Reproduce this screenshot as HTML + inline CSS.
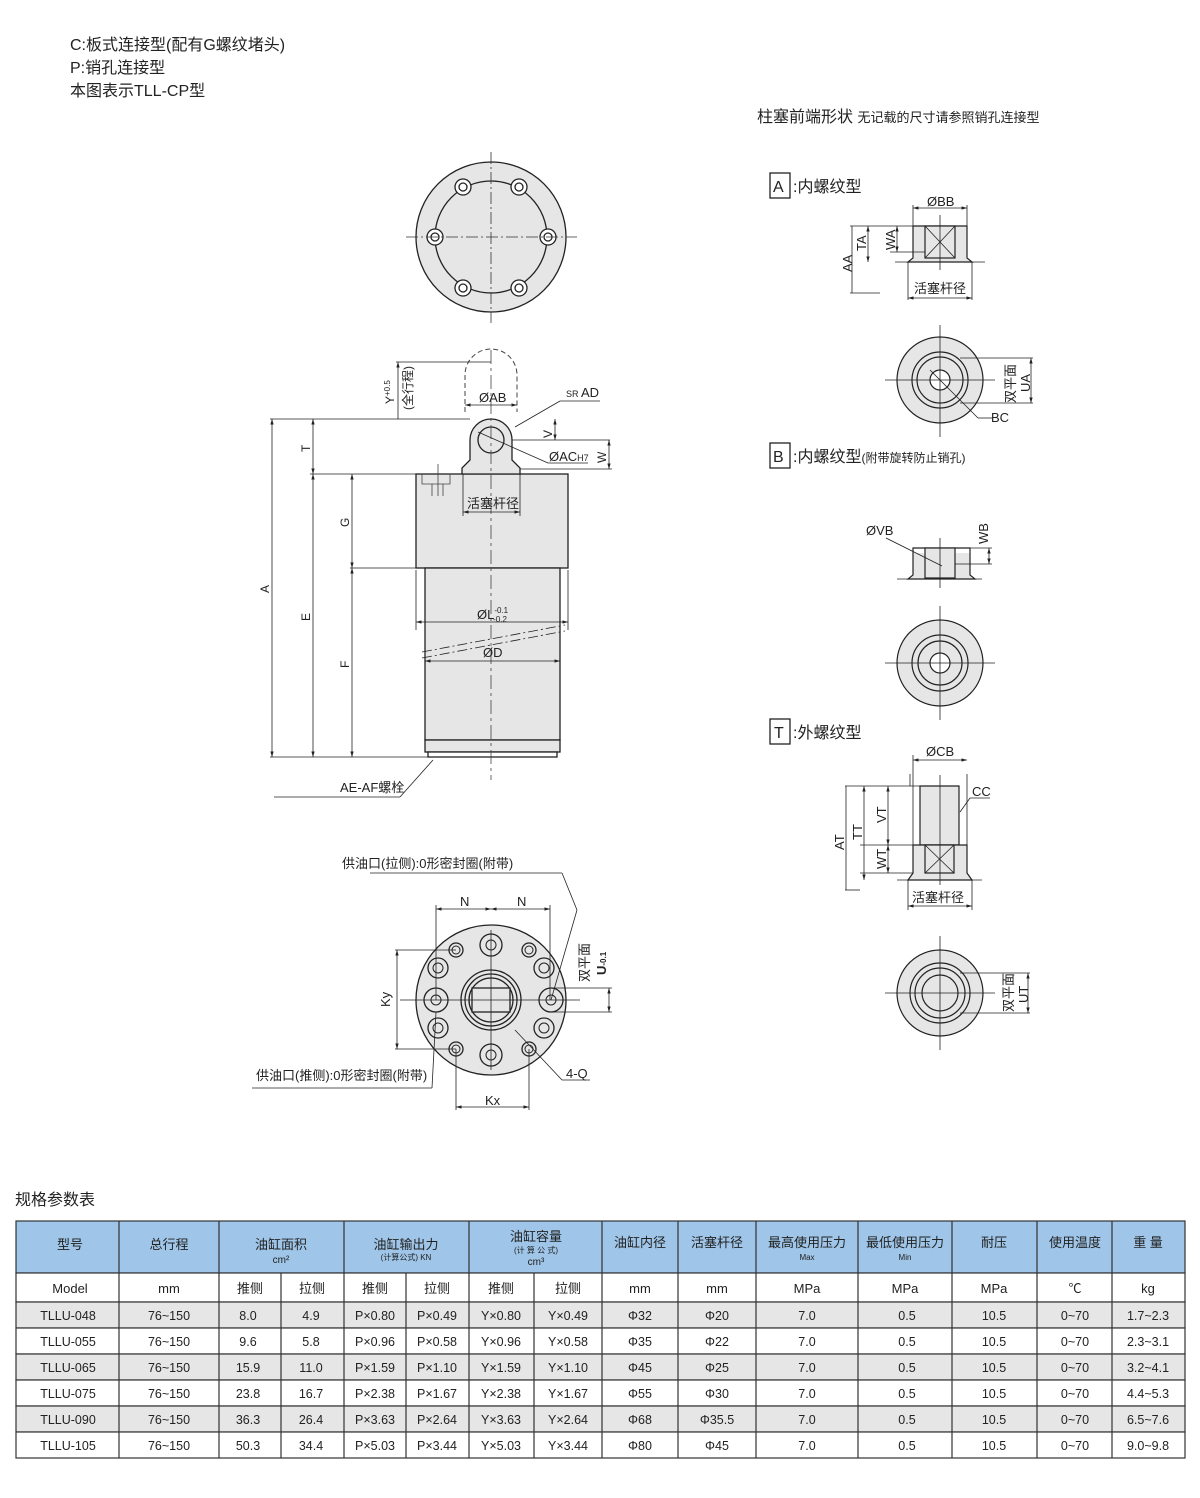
<!DOCTYPE html>
<html><head><meta charset="utf-8">
<style>
body{margin:0;background:#fff;}
svg{display:block;font-family:"Liberation Sans","Noto Sans CJK SC",sans-serif;}
.t{font-family:"Liberation Sans","Noto Sans CJK SC",sans-serif;}
</style></head>
<body>
<svg width="1200" height="1498" viewBox="0 0 1200 1498" xmlns="http://www.w3.org/2000/svg">
<defs>
<marker id="ar" viewBox="0 0 10 10" refX="10" refY="5" markerWidth="7" markerHeight="7" orient="auto-start-reverse"><path d="M0,2 L10,5 L0,8 z" fill="#222"/></marker>
</defs>
<g font-size="16" fill="#222">
<text x="70" y="50">C:板式连接型(配有G螺纹堵头)</text>
<text x="70" y="73">P:销孔连接型</text>
<text x="70" y="96">本图表示TLL-CP型</text>
<text x="757" y="122" font-size="16">柱塞前端形状 <tspan font-size="13">无记载的尺寸请参照销孔连接型</tspan></text>
</g>

<!-- top view -->
<g stroke="#222" stroke-width="1.3" fill="#e6e6e6">
<circle cx="491" cy="237" r="75"/>
<circle cx="491" cy="237" r="56" fill="#e6e6e6"/>
<g fill="#fff"><circle cx="463" cy="187" r="8"/><circle cx="519" cy="187" r="8"/><circle cx="435" cy="237" r="8"/><circle cx="548" cy="237" r="8"/><circle cx="463" cy="288" r="8"/><circle cx="519" cy="288" r="8"/></g>
<g fill="none"><circle cx="463" cy="187" r="4"/><circle cx="519" cy="187" r="4"/><circle cx="435" cy="237" r="4"/><circle cx="548" cy="237" r="4"/><circle cx="463" cy="288" r="4"/><circle cx="519" cy="288" r="4"/></g>
</g>
<g stroke="#333" stroke-width="0.8" stroke-dasharray="12,3,2,3"><line x1="491" y1="152" x2="491" y2="323"/><line x1="406" y1="237" x2="577" y2="237"/></g>

<!-- side view -->
<g stroke="#222" stroke-width="1.3">
<rect x="416" y="474" width="152" height="94" fill="#e6e6e6"/>
<rect x="425" y="568" width="135" height="172" fill="#e6e6e6"/>
<rect x="425" y="740" width="135" height="12" fill="#e6e6e6"/>
<rect x="428" y="752" width="129" height="5" fill="#fff"/>
<path d="M462,474 L462,468 L470,460 L470,440 A21,21 0 0 1 512,440 L512,460 L520,468 L520,474 Z" fill="#e6e6e6"/>
<circle cx="491" cy="440" r="13" fill="#e6e6e6"/>
</g>
<path d="M465,412 L465,375 A26,26 0 0 1 517,375 L517,412" fill="none" stroke="#444" stroke-dasharray="5,3"/>
<g stroke="#444" stroke-width="0.8" fill="none" stroke-dasharray="14,4,3,4"><line x1="491" y1="350" x2="491" y2="780"/></g>
<path d="M422,474 v10 h28 v-10 M432,484 v12 M443,484 v12 M438,464 v32" stroke="#444" stroke-width="0.8" fill="none"/>
<g stroke="#222" stroke-width="0.8" fill="none">
<line x1="270" y1="419" x2="470" y2="419"/><line x1="310" y1="474" x2="416" y2="474"/><line x1="350" y1="568" x2="425" y2="568"/><line x1="270" y1="757" x2="430" y2="757"/>
<line x1="272" y1="419" x2="272" y2="757" marker-start="url(#ar)" marker-end="url(#ar)"/>
<line x1="313" y1="419" x2="313" y2="474" marker-start="url(#ar)" marker-end="url(#ar)"/>
<line x1="313" y1="474" x2="313" y2="757" marker-start="url(#ar)" marker-end="url(#ar)"/>
<line x1="352" y1="474" x2="352" y2="568" marker-start="url(#ar)" marker-end="url(#ar)"/>
<line x1="352" y1="568" x2="352" y2="757" marker-start="url(#ar)" marker-end="url(#ar)"/>
<line x1="398" y1="362" x2="398" y2="419" marker-start="url(#ar)"/><line x1="396" y1="362" x2="491" y2="362"/>
<line x1="465" y1="405" x2="517" y2="405" marker-start="url(#ar)" marker-end="url(#ar)"/>
<line x1="463" y1="474" x2="463" y2="516"/><line x1="520" y1="474" x2="520" y2="516"/>
<line x1="463" y1="512" x2="520" y2="512" marker-start="url(#ar)" marker-end="url(#ar)"/>
<line x1="555" y1="419" x2="555" y2="440" marker-start="url(#ar)" marker-end="url(#ar)"/><line x1="512" y1="440" x2="610" y2="440"/>
<line x1="609" y1="440" x2="609" y2="469" marker-start="url(#ar)" marker-end="url(#ar)"/><line x1="520" y1="469" x2="612" y2="469"/>
<line x1="515" y1="427" x2="560" y2="401"/><line x1="560" y1="401" x2="600" y2="401"/>
<line x1="478" y1="432" x2="548" y2="463"/><line x1="548" y1="463" x2="588" y2="463"/>
<line x1="416" y1="570" x2="416" y2="630"/><line x1="568" y1="570" x2="568" y2="630"/>
<line x1="416" y1="622" x2="568" y2="622" marker-start="url(#ar)" marker-end="url(#ar)"/>
<line x1="425" y1="661" x2="560" y2="661" marker-start="url(#ar)" marker-end="url(#ar)"/>
<line x1="422" y1="652" x2="565" y2="625" stroke-dasharray="10,3,2,3"/><line x1="422" y1="658" x2="565" y2="631" stroke-dasharray="10,3,2,3"/>
<line x1="433" y1="760" x2="400" y2="797"/><line x1="274" y1="797" x2="400" y2="797"/>
</g>
<g font-size="14" fill="#222">
<text x="479" y="402" font-size="13">ØAB</text>
<text x="566" y="397" font-size="13"><tspan font-size="9">SR </tspan>AD</text>
<text x="549" y="461" font-size="13">ØAC<tspan font-size="9">H7</tspan></text>
<text x="467" y="508" font-size="13">活塞杆径</text>
<text x="477" y="619" font-size="13">ØL<tspan font-size="8" dy="-6">-0.1</tspan><tspan font-size="8" dx="-15" dy="9">-0.2</tspan></text>
<text x="483" y="657" font-size="13">ØD</text>
<text x="340" y="792" font-size="13">AE-AF螺栓</text>
<g font-size="12">
<text transform="translate(269,593) rotate(-90)">A</text>
<text transform="translate(310,452) rotate(-90)">T</text>
<text transform="translate(310,621) rotate(-90)">E</text>
<text transform="translate(349,527) rotate(-90)">G</text>
<text transform="translate(349,668) rotate(-90)">F</text>
<text transform="translate(552,438) rotate(-90)">V</text>
<text transform="translate(606,463) rotate(-90)">W</text>
<text transform="translate(394,404) rotate(-90)">Y<tspan font-size="8" dy="-4">+0.5</tspan></text>
<text transform="translate(412,410) rotate(-90)">(全行程)</text>
</g>
</g>

<!-- bottom view -->
<g stroke="#222" stroke-width="1.3" fill="#e6e6e6">
<circle cx="491" cy="1000" r="75"/>
<circle cx="491" cy="1000" r="30"/><circle cx="491" cy="1000" r="26"/><circle cx="491" cy="1000" r="22"/>
<rect x="472" y="988" width="38" height="24" fill="#e6e6e6"/>
<g fill="#e6e6e6"><circle cx="491" cy="945" r="11"/><circle cx="491" cy="1055" r="11"/><circle cx="438" cy="968" r="10"/><circle cx="544" cy="968" r="10"/><circle cx="438" cy="1028" r="10"/><circle cx="544" cy="1028" r="10"/><circle cx="436" cy="1000" r="12"/><circle cx="551" cy="1000" r="12"/><circle cx="456" cy="950" r="7"/><circle cx="529" cy="950" r="7"/><circle cx="456" cy="1049" r="7"/><circle cx="529" cy="1049" r="7"/></g>
<g fill="none" stroke-width="1"><circle cx="491" cy="945" r="5"/><circle cx="491" cy="1055" r="5"/><circle cx="438" cy="968" r="5"/><circle cx="544" cy="968" r="5"/><circle cx="438" cy="1028" r="5"/><circle cx="544" cy="1028" r="5"/><circle cx="436" cy="1000" r="5"/><circle cx="551" cy="1000" r="5"/><circle cx="456" cy="950" r="4"/><circle cx="529" cy="950" r="4"/><circle cx="456" cy="1049" r="4"/><circle cx="529" cy="1049" r="4"/></g>
</g>
<g stroke="#222" stroke-width="0.8" fill="none">
<line x1="400" y1="1000" x2="580" y2="1000"/><line x1="491" y1="930" x2="491" y2="1070"/>
<line x1="436" y1="905" x2="436" y2="1000"/><line x1="550" y1="905" x2="550" y2="1000"/>
<line x1="436" y1="909" x2="491" y2="909" marker-start="url(#ar)" marker-end="url(#ar)"/><line x1="491" y1="909" x2="550" y2="909" marker-start="url(#ar)" marker-end="url(#ar)"/>
<line x1="395" y1="950" x2="456" y2="950"/><line x1="395" y1="1049" x2="456" y2="1049"/>
<line x1="397" y1="950" x2="397" y2="1049" marker-start="url(#ar)" marker-end="url(#ar)"/>
<line x1="456" y1="1049" x2="456" y2="1110"/><line x1="529" y1="1049" x2="529" y2="1110"/>
<line x1="456" y1="1107" x2="529" y2="1107" marker-start="url(#ar)" marker-end="url(#ar)"/>
<line x1="551" y1="988" x2="612" y2="988"/><line x1="551" y1="1012" x2="612" y2="1012"/>
<line x1="609" y1="988" x2="609" y2="1012" marker-start="url(#ar)" marker-end="url(#ar)"/>
<line x1="370" y1="873" x2="562" y2="873"/><line x1="562" y1="873" x2="577" y2="910"/><line x1="577" y1="910" x2="551" y2="1000"/>
<line x1="252" y1="1088" x2="432" y2="1088"/><line x1="432" y1="1088" x2="436" y2="1012"/>
<line x1="515" y1="1030" x2="562" y2="1080"/><line x1="562" y1="1080" x2="590" y2="1080"/>
</g>
<g font-size="13" fill="#222">
<text x="342" y="868">供油口(拉侧):0形密封圈(附带)</text>
<text x="256" y="1080">供油口(推侧):0形密封圈(附带)</text>
<text x="460" y="906">N</text><text x="517" y="906">N</text>
<text x="485" y="1105">Kx</text><text x="566" y="1078">4-Q</text>
<text transform="translate(390,1007) rotate(-90)">Ky</text>
<text transform="translate(589,982) rotate(-90)">双平面</text>
<text transform="translate(606,975) rotate(-90)" font-weight="bold">U<tspan font-size="8">-0.1</tspan></text>
</g>

<!-- Right: A -->
<g font-size="16" fill="#222" stroke="#222">
<rect x="770" y="173" width="20" height="25" fill="none" stroke-width="1.3"/>
<text x="773" y="192" stroke="none">A</text><text x="793" y="192" stroke="none">:内螺纹型</text>
<rect x="770" y="443" width="20" height="25" fill="none" stroke-width="1.3"/>
<text x="773" y="462" stroke="none">B</text><text x="793" y="462" stroke="none">:内螺纹型<tspan font-size="12">(附带旋转防止销孔)</tspan></text>
<rect x="770" y="719" width="20" height="25" fill="none" stroke-width="1.3"/>
<text x="774" y="738" stroke="none">T</text><text x="793" y="738" stroke="none">:外螺纹型</text>
</g>
<g stroke="#222" stroke-width="1.2" fill="#e6e6e6">
<path d="M913,258 V226 H967 V258 L972,262 H908 Z"/>
<rect x="925" y="226" width="30" height="32"/>
<path d="M913,553 V548 H970 V553 M913,548 V575 L908,579 H975 L970,575 V548"/>
<rect x="925" y="548" width="30" height="30"/>
<path d="M920,845 V786 H959 V845 Z"/>
<path d="M913,845 H967 V873 L972,880 H908 L913,873 Z"/>
<rect x="925" y="845" width="29" height="28"/>
</g>
<g stroke="#222" stroke-width="0.8" fill="none">
<line x1="895" y1="262" x2="985" y2="262"/><line x1="925" y1="226" x2="955" y2="258"/><line x1="955" y1="226" x2="925" y2="258"/>
<line x1="897" y1="579" x2="982" y2="579"/>
<line x1="897" y1="880" x2="982" y2="880"/><line x1="925" y1="845" x2="954" y2="873"/><line x1="954" y1="845" x2="925" y2="873"/>
<line x1="940" y1="215" x2="940" y2="270"/><line x1="940" y1="538" x2="940" y2="588"/><line x1="940" y1="775" x2="940" y2="885"/>
<line x1="913" y1="226" x2="913" y2="205"/><line x1="967" y1="226" x2="967" y2="205"/>
<line x1="913" y1="208" x2="967" y2="208" marker-start="url(#ar)" marker-end="url(#ar)"/>
<line x1="908" y1="262" x2="908" y2="300"/><line x1="972" y1="262" x2="972" y2="300"/>
<line x1="908" y1="298" x2="972" y2="298" marker-start="url(#ar)" marker-end="url(#ar)"/>
<line x1="850" y1="226" x2="913" y2="226"/><line x1="850" y1="293" x2="880" y2="293"/>
<line x1="852" y1="226" x2="852" y2="293"/>
<line x1="868" y1="226" x2="868" y2="262" marker-start="url(#ar)" marker-end="url(#ar)"/>
<line x1="897" y1="226" x2="897" y2="252" marker-start="url(#ar)" marker-end="url(#ar)"/><line x1="890" y1="252" x2="925" y2="252"/>
<line x1="970" y1="548" x2="992" y2="548"/><line x1="955" y1="564" x2="992" y2="564"/>
<line x1="989" y1="548" x2="989" y2="564" marker-start="url(#ar)" marker-end="url(#ar)"/>
<line x1="886" y1="538" x2="942" y2="566"/>
<line x1="910" y1="774" x2="910" y2="786"/><line x1="967" y1="774" x2="967" y2="845"/>
<line x1="913" y1="760" x2="967" y2="760" marker-start="url(#ar)" marker-end="url(#ar)"/><line x1="913" y1="755" x2="913" y2="845"/>
<line x1="845" y1="786" x2="920" y2="786"/><line x1="845" y1="890" x2="860" y2="890"/><line x1="860" y1="845" x2="913" y2="845"/><line x1="860" y1="873" x2="913" y2="873"/>
<line x1="846" y1="786" x2="846" y2="890"/>
<line x1="864" y1="786" x2="864" y2="880" marker-start="url(#ar)" marker-end="url(#ar)"/>
<line x1="888" y1="786" x2="888" y2="845" marker-start="url(#ar)" marker-end="url(#ar)"/>
<line x1="888" y1="845" x2="888" y2="873" marker-start="url(#ar)" marker-end="url(#ar)"/>
<line x1="908" y1="880" x2="908" y2="910"/><line x1="972" y1="880" x2="972" y2="910"/>
<line x1="908" y1="906" x2="972" y2="906" marker-start="url(#ar)" marker-end="url(#ar)"/>
<line x1="960" y1="812" x2="970" y2="798"/><line x1="970" y1="798" x2="990" y2="798"/>
</g>
<!-- round views -->
<g stroke="#222" stroke-width="1.2" fill="#e6e6e6">
<circle cx="940" cy="380" r="43"/><circle cx="940" cy="380" r="28"/><circle cx="940" cy="380" r="23" fill="none"/><circle cx="940" cy="380" r="10" fill="#fff"/>
<circle cx="940" cy="663" r="43"/><circle cx="940" cy="663" r="28"/><circle cx="940" cy="663" r="22" fill="none"/><circle cx="940" cy="663" r="10" fill="#fff"/>
<circle cx="940" cy="993" r="43"/><circle cx="940" cy="993" r="30"/><circle cx="940" cy="993" r="25" fill="none"/><circle cx="940" cy="993" r="18" fill="none"/>
</g>
<g stroke="#222" stroke-width="0.8" fill="none">
<line x1="885" y1="380" x2="995" y2="380"/><line x1="940" y1="325" x2="940" y2="437"/>
<line x1="885" y1="663" x2="995" y2="663"/><line x1="940" y1="606" x2="940" y2="720"/>
<line x1="885" y1="993" x2="995" y2="993"/><line x1="940" y1="936" x2="940" y2="1050"/>
<line x1="960" y1="358" x2="1033" y2="358"/><line x1="960" y1="403" x2="1033" y2="403"/>
<line x1="1031" y1="358" x2="1031" y2="403" marker-start="url(#ar)" marker-end="url(#ar)"/>
<line x1="930" y1="370" x2="955" y2="395"/><line x1="955" y1="395" x2="978" y2="418"/><line x1="978" y1="418" x2="992" y2="418"/>
<line x1="960" y1="973" x2="1030" y2="973"/><line x1="960" y1="1013" x2="1030" y2="1013"/>
<line x1="1028" y1="973" x2="1028" y2="1013" marker-start="url(#ar)" marker-end="url(#ar)"/>
</g>
<g font-size="13" fill="#222">
<text x="927" y="206">ØBB</text><text x="914" y="293">活塞杆径</text>
<text transform="translate(852,272) rotate(-90)">AA</text><text transform="translate(866,251) rotate(-90)">TA</text><text transform="translate(895,250) rotate(-90)">WA</text>
<text transform="translate(1015,403) rotate(-90)">双平面</text><text transform="translate(1030,392) rotate(-90)">UA</text>
<text x="991" y="422">BC</text>
<text x="866" y="535">ØVB</text><text transform="translate(988,544) rotate(-90)">WB</text>
<text x="926" y="756">ØCB</text><text x="972" y="796">CC</text><text x="912" y="902">活塞杆径</text>
<text transform="translate(844,850) rotate(-90)">AT</text><text transform="translate(862,840) rotate(-90)">TT</text>
<text transform="translate(886,823) rotate(-90)">VT</text><text transform="translate(886,869) rotate(-90)">WT</text>
<text transform="translate(1013,1012) rotate(-90)">双平面</text><text transform="translate(1028,1003) rotate(-90)">UT</text>
</g>

<!-- table -->
<text x="15" y="1205" font-size="16" fill="#222">规格参数表</text>
<g stroke="#333" stroke-width="1.2">
<rect x="16" y="1221" width="1169" height="52" fill="#9fc5e8"/>
<rect x="16" y="1273" width="1169" height="29" fill="#fff"/>
<rect x="16" y="1302" width="1169" height="26" fill="#e6e6e6"/>
<rect x="16" y="1328" width="1169" height="26" fill="#fff"/>
<rect x="16" y="1354" width="1169" height="26" fill="#e6e6e6"/>
<rect x="16" y="1380" width="1169" height="26" fill="#fff"/>
<rect x="16" y="1406" width="1169" height="26" fill="#e6e6e6"/>
<rect x="16" y="1432" width="1169" height="26" fill="#fff"/>
<g fill="none">
<path d="M119,1221V1458 M219,1221V1458 M344,1221V1458 M469,1221V1458 M602,1221V1458 M678,1221V1458 M756,1221V1458 M858,1221V1458 M952,1221V1458 M1037,1221V1458 M1112,1221V1458"/>
<path d="M281,1273V1458 M406,1273V1458 M534,1273V1458"/>
</g>
</g>
<g font-size="13" fill="#222" text-anchor="middle">
<text x="70" y="1249">型号</text><text x="169" y="1249">总行程</text>
<text x="281" y="1249">油缸面积</text><text x="281" y="1263" font-size="10">cm²</text>
<text x="406" y="1249">油缸输出力</text><text x="406" y="1260" font-size="8">(计算公式) KN</text>
<text x="536" y="1241">油缸容量</text><text x="536" y="1253" font-size="8">(计 算 公 式)</text><text x="536" y="1265" font-size="10">cm³</text>
<text x="640" y="1247">油缸内径</text><text x="717" y="1247">活塞杆径</text>
<text x="807" y="1247">最高使用压力</text><text x="807" y="1260" font-size="8">Max</text>
<text x="905" y="1247">最低使用压力</text><text x="905" y="1260" font-size="8">Min</text>
<text x="994" y="1247">耐压</text><text x="1075" y="1247">使用温度</text><text x="1148" y="1247">重 量</text>
<text x="70" y="1293">Model</text><text x="169" y="1293">mm</text><text x="250" y="1293">推侧</text><text x="312" y="1293">拉侧</text>
<text x="375" y="1293">推侧</text><text x="437" y="1293">拉侧</text><text x="501" y="1293">推侧</text><text x="568" y="1293">拉侧</text>
<text x="640" y="1293">mm</text><text x="717" y="1293">mm</text><text x="807" y="1293">MPa</text><text x="905" y="1293">MPa</text><text x="994" y="1293">MPa</text><text x="1075" y="1293">℃</text><text x="1148" y="1293">kg</text>
<g font-size="12.5">
<text x="68" y="1320">TLLU-048</text><text x="169" y="1320">76~150</text><text x="248" y="1320">8.0</text><text x="311" y="1320">4.9</text><text x="375" y="1320">P×0.80</text><text x="437" y="1320">P×0.49</text><text x="501" y="1320">Y×0.80</text><text x="568" y="1320">Y×0.49</text><text x="640" y="1320">Φ32</text><text x="717" y="1320">Φ20</text><text x="807" y="1320">7.0</text><text x="907" y="1320">0.5</text><text x="994" y="1320">10.5</text><text x="1075" y="1320">0~70</text><text x="1148" y="1320">1.7~2.3</text>
<text x="68" y="1346">TLLU-055</text><text x="169" y="1346">76~150</text><text x="248" y="1346">9.6</text><text x="311" y="1346">5.8</text><text x="375" y="1346">P×0.96</text><text x="437" y="1346">P×0.58</text><text x="501" y="1346">Y×0.96</text><text x="568" y="1346">Y×0.58</text><text x="640" y="1346">Φ35</text><text x="717" y="1346">Φ22</text><text x="807" y="1346">7.0</text><text x="907" y="1346">0.5</text><text x="994" y="1346">10.5</text><text x="1075" y="1346">0~70</text><text x="1148" y="1346">2.3~3.1</text>
<text x="68" y="1372">TLLU-065</text><text x="169" y="1372">76~150</text><text x="248" y="1372">15.9</text><text x="311" y="1372">11.0</text><text x="375" y="1372">P×1.59</text><text x="437" y="1372">P×1.10</text><text x="501" y="1372">Y×1.59</text><text x="568" y="1372">Y×1.10</text><text x="640" y="1372">Φ45</text><text x="717" y="1372">Φ25</text><text x="807" y="1372">7.0</text><text x="907" y="1372">0.5</text><text x="994" y="1372">10.5</text><text x="1075" y="1372">0~70</text><text x="1148" y="1372">3.2~4.1</text>
<text x="68" y="1398">TLLU-075</text><text x="169" y="1398">76~150</text><text x="248" y="1398">23.8</text><text x="311" y="1398">16.7</text><text x="375" y="1398">P×2.38</text><text x="437" y="1398">P×1.67</text><text x="501" y="1398">Y×2.38</text><text x="568" y="1398">Y×1.67</text><text x="640" y="1398">Φ55</text><text x="717" y="1398">Φ30</text><text x="807" y="1398">7.0</text><text x="907" y="1398">0.5</text><text x="994" y="1398">10.5</text><text x="1075" y="1398">0~70</text><text x="1148" y="1398">4.4~5.3</text>
<text x="68" y="1424">TLLU-090</text><text x="169" y="1424">76~150</text><text x="248" y="1424">36.3</text><text x="311" y="1424">26.4</text><text x="375" y="1424">P×3.63</text><text x="437" y="1424">P×2.64</text><text x="501" y="1424">Y×3.63</text><text x="568" y="1424">Y×2.64</text><text x="640" y="1424">Φ68</text><text x="717" y="1424">Φ35.5</text><text x="807" y="1424">7.0</text><text x="907" y="1424">0.5</text><text x="994" y="1424">10.5</text><text x="1075" y="1424">0~70</text><text x="1148" y="1424">6.5~7.6</text>
<text x="68" y="1450">TLLU-105</text><text x="169" y="1450">76~150</text><text x="248" y="1450">50.3</text><text x="311" y="1450">34.4</text><text x="375" y="1450">P×5.03</text><text x="437" y="1450">P×3.44</text><text x="501" y="1450">Y×5.03</text><text x="568" y="1450">Y×3.44</text><text x="640" y="1450">Φ80</text><text x="717" y="1450">Φ45</text><text x="807" y="1450">7.0</text><text x="907" y="1450">0.5</text><text x="994" y="1450">10.5</text><text x="1075" y="1450">0~70</text><text x="1148" y="1450">9.0~9.8</text>
</g>
</g>
</svg>
</body></html>
